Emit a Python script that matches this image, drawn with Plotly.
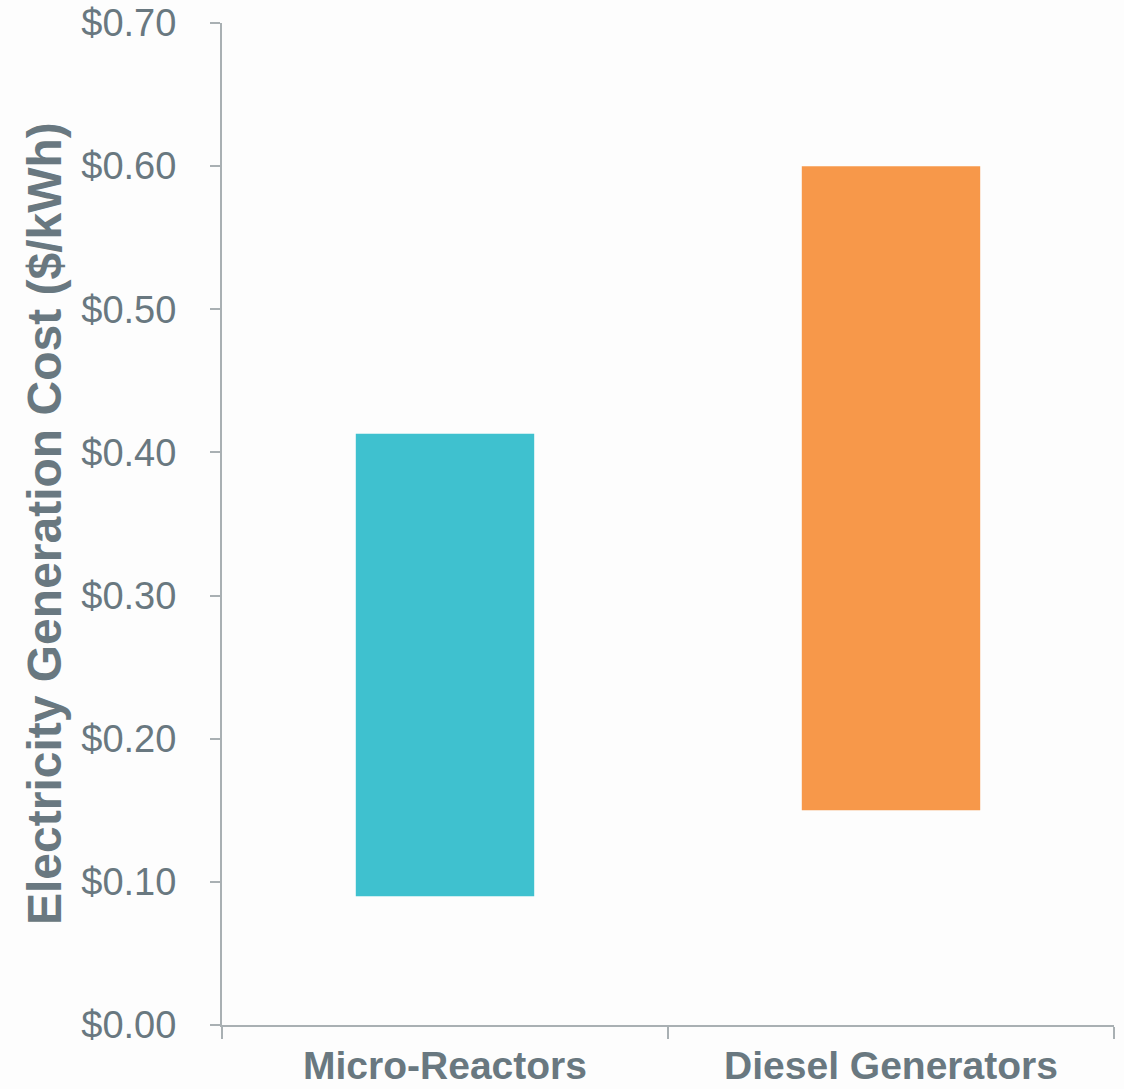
import plotly.graph_objects as go

# Cost ranges for each generation technology ($/kWh)
categories = ["Micro-Reactors", "Diesel Generators"]
cost_low = [0.09, 0.15]
cost_high = [0.413, 0.60]
bar_colors = ["#3fc1cf", "#f7984a"]

y_tick_values = [0.0, 0.1, 0.2, 0.3, 0.4, 0.5, 0.6, 0.7]
y_tick_labels = ["$0.00", "$0.10", "$0.20", "$0.30", "$0.40", "$0.50", "$0.60", "$0.70"]

TEXT = "#697880"
AXIS = "#a9b0b3"
FONT = "Arial, Liberation Sans, sans-serif"

fig = go.Figure(
    go.Bar(
        x=categories,
        y=[h - l for l, h in zip(cost_low, cost_high)],
        base=cost_low,
        marker=dict(color=bar_colors, line=dict(width=0)),
        width=0.4,
        hoverinfo="skip",
    )
)

W, H = 1124, 1089
ML, MR, MT, MB = 222, 10, 23, 64

fig.update_layout(
    width=W,
    height=H,
    margin=dict(l=ML, r=MR, t=MT, b=MB, autoexpand=False),
    paper_bgcolor="#fdfdfd",
    plot_bgcolor="#fdfdfd",
    font=dict(family=FONT, color=TEXT),
    showlegend=False,
)

fig.update_xaxes(
    range=[-0.5, 1.5],
    showgrid=False,
    showline=True,
    linecolor=AXIS,
    linewidth=2,
    ticks="outside",
    tickson="boundaries",
    ticklen=12,
    tickwidth=2,
    tickcolor=AXIS,
    tickfont=dict(family=FONT, size=39, color=TEXT, weight="bold"),
    ticklabelstandoff=5,
    zeroline=False,
)

fig.update_yaxes(
    range=[0, 0.7],
    tickvals=y_tick_values,
    ticktext=y_tick_labels,
    showgrid=False,
    showline=True,
    linecolor=AXIS,
    linewidth=2,
    ticks="outside",
    ticklen=10,
    tickwidth=2,
    tickcolor=AXIS,
    tickfont=dict(family=FONT, size=38, color=TEXT),
    ticklabelstandoff=26,
    zeroline=False,
)

# Rotated y-axis title
plot_w = W - ML - MR
fig.add_annotation(
    text="<b>Electricity Generation Cost ($/kWh)</b>",
    xref="paper",
    yref="paper",
    x=-(ML - 44) / plot_w,
    y=0.5,
    xanchor="center",
    yanchor="middle",
    textangle=-90,
    showarrow=False,
    font=dict(family=FONT, size=48, color=TEXT),
)

fig.write_html("out.html")
